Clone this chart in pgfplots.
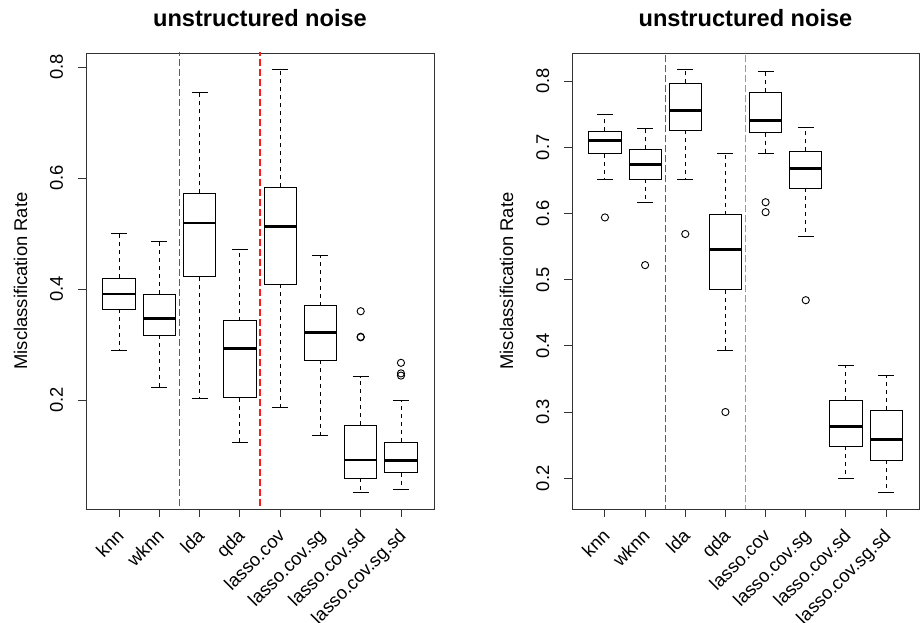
\documentclass[border=0pt]{standalone}
\usepackage{fontspec}
\setmainfont{Liberation Sans}
\usepackage{pgfplots}
\pgfplotsset{compat=1.18}
\usepgfplotslibrary{statistics}
\definecolor{rred}{RGB}{245,30,30}
\definecolor{rpink}{RGB}{255,110,110}
\pgfplotsset{
  rpanel/.style={
    scale only axis, width=348pt, height=456pt,
    xmin=0.18, xmax=8.82,
    xtick={1,2,3,4,5,6,7,8},
    xticklabels={knn,wknn,lda,qda,lasso.cov,lasso.cov.sg,lasso.cov.sd,lasso.cov.sg.sd},
    tick align=outside, major tick length=8pt,
    xtick pos=left, ytick pos=left,
    axis line style={line width=0.9pt, black!80},
    every tick/.style={line width=0.9pt, black!80},
    /pgf/number format/assume math mode=true,
    tick label style={font=\fontsize{18.4}{22}\selectfont},
    xticklabel style={inner sep=0pt, xshift=6pt, yshift=-20pt, rotate=45, anchor=base east},
    yticklabel style={inner sep=0pt, xshift=-15pt, rotate=90, anchor=base},
    ylabel={Misclassification Rate},
    ylabel style={font=\fontsize{18.4}{22}\selectfont, at={(axis description cs:-0.1695,0.5)}, rotate=0, anchor=base, inner sep=0pt},
    title={unstructured noise},
    title style={font=\bfseries\fontsize{23.6}{28}\selectfont, at={(axis description cs:0.5,1)}, anchor=base, yshift=20pt, inner sep=0pt},
    boxplot/draw direction=y,
    boxplot/box extend=0.8,
    boxplot/whisker extend=0.4,
    boxplot/every box/.style={line width=0.9pt},
    boxplot/every median/.style={line width=2.8pt},
    boxplot/draw/lower whisker/.code={
      \draw[line width=0.9pt, dash pattern=on 4pt off 4pt]
        (boxplot cs:\pgfplotsboxplotvalue{lower quartile}) -- (boxplot cs:\pgfplotsboxplotvalue{lower whisker});
      \draw[line width=0.9pt]
        (boxplot whisker cs:\pgfplotsboxplotvalue{lower whisker},0) -- (boxplot whisker cs:\pgfplotsboxplotvalue{lower whisker},1);
    },
    boxplot/draw/upper whisker/.code={
      \draw[line width=0.9pt, dash pattern=on 4pt off 4pt]
        (boxplot cs:\pgfplotsboxplotvalue{upper quartile}) -- (boxplot cs:\pgfplotsboxplotvalue{upper whisker});
      \draw[line width=0.9pt]
        (boxplot whisker cs:\pgfplotsboxplotvalue{upper whisker},0) -- (boxplot whisker cs:\pgfplotsboxplotvalue{upper whisker},1);
    },
  },
  rb/.style={black, mark=o, mark size=3.6pt, mark options={line width=0.9pt, fill=none}},
}
\begin{document}
\begin{tikzpicture}
\useasboundingbox (0,0) rectangle (920pt,623pt);
% ---------------- left panel ----------------
\begin{axis}[rpanel, at={(86pt,114pt)}, anchor=south west,
  ymin=0.0036, ymax=0.8254,
  ytick={0.2,0.4,0.6,0.8}, yticklabels={0.2,0.4,0.6,0.8}]
\addplot[rb, boxplot prepared={draw position=1, lower whisker=0.290, lower quartile=0.364, median=0.391, upper quartile=0.419, upper whisker=0.501}] coordinates {};
\addplot[rb, boxplot prepared={draw position=2, lower whisker=0.223, lower quartile=0.317, median=0.347, upper quartile=0.391, upper whisker=0.486}] coordinates {};
\addplot[rb, boxplot prepared={draw position=3, lower whisker=0.202, lower quartile=0.422, median=0.519, upper quartile=0.573, upper whisker=0.754}] coordinates {};
\addplot[rb, boxplot prepared={draw position=4, lower whisker=0.124, lower quartile=0.204, median=0.293, upper quartile=0.343, upper whisker=0.471}] coordinates {};
\addplot[rb, boxplot prepared={draw position=5, lower whisker=0.187, lower quartile=0.409, median=0.512, upper quartile=0.583, upper whisker=0.795}] coordinates {};
\addplot[rb, boxplot prepared={draw position=6, lower whisker=0.137, lower quartile=0.272, median=0.321, upper quartile=0.370, upper whisker=0.460}] coordinates {};
\addplot[rb, boxplot prepared={draw position=7, lower whisker=0.034, lower quartile=0.059, median=0.092, upper quartile=0.155, upper whisker=0.242}] coordinates {(0,0.360) (0,0.314) (0,0.313)};
\addplot[rb, boxplot prepared={draw position=8, lower whisker=0.038, lower quartile=0.069, median=0.091, upper quartile=0.124, upper whisker=0.199}] coordinates {(0,0.267) (0,0.248) (0,0.244)};
\addplot[rred, line width=1.1pt, dash pattern=on 7pt off 3pt] coordinates {(2.5,-1) (2.5,2)};
\addplot[rred, line width=1.1pt, dash pattern=on 7pt off 3pt] coordinates {(4.5,-1) (4.5,2)};
\end{axis}
% ---------------- right panel ----------------
\begin{axis}[rpanel, at={(572pt,114pt)}, anchor=south west, width=347pt,
  ymin=0.1535, ymax=0.8425,
  ytick={0.2,0.3,0.4,0.5,0.6,0.7,0.8}, yticklabels={0.2,0.3,0.4,0.5,0.6,0.7,0.8}]
\addplot[rb, boxplot prepared={draw position=1, lower whisker=0.651, lower quartile=0.690, median=0.710, upper quartile=0.724, upper whisker=0.750}] coordinates {(0,0.594)};
\addplot[rb, boxplot prepared={draw position=2, lower whisker=0.616, lower quartile=0.652, median=0.674, upper quartile=0.697, upper whisker=0.728}] coordinates {(0,0.522)};
\addplot[rb, boxplot prepared={draw position=3, lower whisker=0.651, lower quartile=0.726, median=0.756, upper quartile=0.797, upper whisker=0.817}] coordinates {(0,0.569)};
\addplot[rb, boxplot prepared={draw position=4, lower whisker=0.393, lower quartile=0.485, median=0.545, upper quartile=0.598, upper whisker=0.690}] coordinates {(0,0.300)};
\addplot[rb, boxplot prepared={draw position=5, lower whisker=0.690, lower quartile=0.722, median=0.740, upper quartile=0.783, upper whisker=0.814}] coordinates {(0,0.617) (0,0.602)};
\addplot[rb, boxplot prepared={draw position=6, lower whisker=0.566, lower quartile=0.638, median=0.668, upper quartile=0.694, upper whisker=0.730}] coordinates {(0,0.469)};
\addplot[rb, boxplot prepared={draw position=7, lower whisker=0.200, lower quartile=0.248, median=0.278, upper quartile=0.318, upper whisker=0.371}] coordinates {};
\addplot[rb, boxplot prepared={draw position=8, lower whisker=0.179, lower quartile=0.227, median=0.258, upper quartile=0.303, upper whisker=0.356}] coordinates {};
\addplot[rred, line width=1.1pt, dash pattern=on 7pt off 3pt] coordinates {(2.5,-1) (2.5,2)};
\addplot[rpink, line width=1.8pt, dash pattern=on 7pt off 3pt] coordinates {(4.5,-1) (4.5,2)};
\end{axis}
\end{tikzpicture}
\end{document}
